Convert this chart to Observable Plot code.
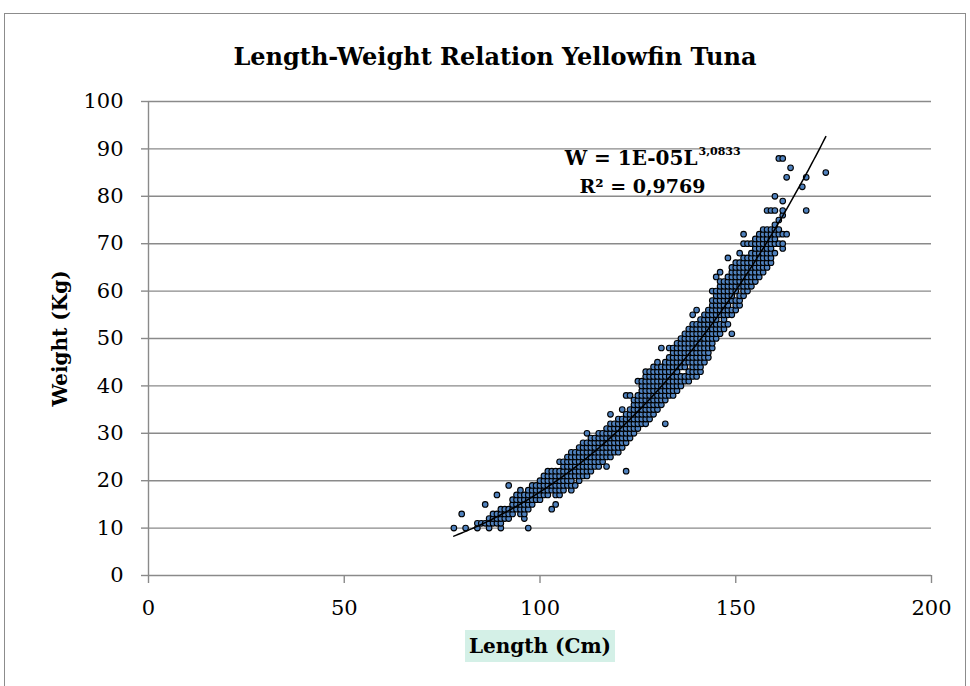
<!DOCTYPE html>
<html>
<head>
<meta charset="utf-8">
<script src="https://cdn.jsdelivr.net/npm/d3@7"></script>
<script src="https://cdn.jsdelivr.net/npm/@observablehq/plot@0.6"></script>
<style>
  body { margin: 0; background: #fff; }
  #wrap { position: relative; width: 970px; height: 686px; overflow: hidden; font-family: "DejaVu Serif", serif; }
  #border { position: absolute; left: 4px; top: 13px; width: 962px; height: 700px; border: 1px solid #8c8c8c; box-sizing: border-box; }
  #title { position: absolute; left: 495px; top: 42px; transform: translateX(-50%); white-space: nowrap;
           font-weight: bold; font-size: 24px; line-height: 30px; color: #000; }
  #chart { position: absolute; left: 0; top: 80px; }
  #xtitle { position: absolute; left: 465px; top: 630px; width: 150px; height: 32px; line-height: 32px;
            background: #d4f0e7; text-align: center; font-weight: bold; font-size: 20px; color: #000; white-space: nowrap; }
</style>
</head>
<body>
<div id="wrap">
  <div id="border"></div>
  <div id="title">Length-Weight Relation Yellowfin Tuna</div>
  <div id="chart"></div>
  <div id="xtitle">Length (Cm)</div>
</div>
<script>
const lengths = [78, 80, 81, 84, 85, 86, 87, 88, 89, 90, 91, 92, 93, 94, 95, 96, 97, 98, 99,
  100, 101, 102, 103, 104, 105, 106, 107, 108, 109, 110, 111, 112, 113, 114, 115, 116, 117, 118, 119,
  120, 121, 122, 123, 124, 125, 126, 127, 128, 129, 130, 131, 132, 133, 134, 135, 136, 137, 138, 139,
  140, 141, 142, 143, 144, 145, 146, 147, 148, 149, 150, 151, 152, 153, 154, 155, 156, 157, 158, 159,
  160, 161, 162, 163, 164, 167, 168, 173];
const weightsAtLength = [
  [10], [13], [10], [10, 11], [11], [11, 15], [10, 11, 12], [11, 12, 13], [11, 12, 13, 17],
  [10, 11, 12, 13, 14], [12, 13, 14], [12, 13, 14, 19], [13, 14, 15, 16], [14, 15, 16, 17],
  [13, 14, 15, 16, 17, 18], [12, 13, 14, 15, 16, 17], [10, 14, 15, 16, 17, 18], [15, 16, 17, 18, 19],
  [16, 17, 18, 19],
  [16, 17, 18, 19, 20], [17, 18, 19, 20, 21], [17, 18, 19, 20, 21, 22], [14, 18, 19, 20, 21, 22],
  [15, 17, 18, 19, 20, 21, 22], [17, 18, 19, 20, 21, 22, 24], [18, 19, 20, 21, 22, 23, 24],
  [19, 20, 21, 22, 23, 24, 25], [18, 19, 20, 21, 22, 23, 24, 25, 26], [19, 21, 22, 23, 24, 25, 26],
  [20, 21, 22, 23, 24, 25, 26, 27], [21, 22, 23, 24, 25, 26, 27, 28], [21, 22, 23, 24, 25, 26, 27, 28, 30],
  [22, 23, 24, 25, 26, 27, 28, 29], [23, 24, 25, 26, 27, 28, 29], [23, 24, 25, 26, 27, 28, 29, 30],
  [24, 25, 26, 27, 28, 29, 30], [23, 25, 26, 27, 28, 29, 30, 31], [25, 26, 27, 28, 29, 30, 31, 32, 34],
  [26, 27, 28, 29, 30, 31, 32],
  [26, 27, 28, 29, 30, 31, 32, 33], [27, 28, 29, 30, 31, 32, 33, 35], [22, 28, 29, 30, 31, 32, 33, 34, 38],
  [29, 30, 31, 32, 33, 34, 35, 38], [30, 31, 32, 33, 34, 35, 36, 37], [31, 32, 33, 34, 35, 36, 37, 38, 41],
  [32, 33, 34, 35, 36, 37, 38, 39, 40, 41], [32, 33, 34, 35, 36, 37, 38, 39, 40, 41, 42, 43],
  [33, 34, 35, 36, 37, 38, 39, 40, 41, 42, 43], [34, 35, 36, 37, 38, 39, 40, 41, 42, 43, 44],
  [35, 36, 37, 38, 39, 40, 41, 42, 43, 44, 45], [36, 37, 38, 39, 40, 41, 42, 43, 44, 48],
  [32, 37, 38, 39, 40, 41, 42, 43, 44, 45], [38, 39, 40, 41, 42, 43, 44, 45, 46, 48],
  [38, 39, 40, 41, 42, 43, 44, 45, 46, 47, 48], [39, 40, 41, 42, 43, 44, 45, 46, 47, 48, 49],
  [40, 41, 42, 44, 45, 46, 47, 48, 49, 50], [41, 42, 44, 45, 46, 47, 48, 49, 50, 51],
  [41, 42, 43, 45, 46, 47, 48, 49, 50, 51, 52], [42, 43, 44, 45, 46, 47, 48, 49, 50, 51, 52, 53, 55],
  [42, 43, 44, 45, 46, 47, 48, 49, 50, 51, 52, 53, 56], [43, 44, 45, 46, 47, 48, 49, 50, 51, 52, 53, 54],
  [45, 46, 47, 48, 49, 50, 51, 52, 53, 54, 55], [46, 47, 48, 49, 50, 51, 52, 53, 54, 55, 56],
  [48, 49, 50, 51, 52, 53, 54, 55, 56, 57, 58, 60], [50, 51, 52, 53, 54, 55, 56, 57, 58, 59, 60, 63],
  [51, 52, 53, 55, 56, 57, 58, 59, 60, 61, 62, 64], [52, 53, 54, 55, 56, 57, 58, 59, 60, 61, 62],
  [53, 55, 56, 57, 58, 59, 60, 61, 62, 63, 67], [51, 55, 56, 58, 59, 60, 61, 62, 63, 64, 65],
  [56, 57, 58, 60, 61, 62, 63, 64, 65, 66], [57, 58, 59, 61, 62, 63, 64, 65, 66, 68],
  [59, 60, 61, 62, 63, 64, 65, 66, 67, 70, 72], [60, 61, 62, 63, 64, 65, 66, 67, 70], [61, 62, 63, 64, 65, 66, 67, 68, 70],
  [62, 63, 64, 65, 66, 67, 68, 69, 70, 71], [63, 64, 65, 66, 67, 68, 69, 70, 71, 72], [64, 65, 66, 67, 68, 69, 70, 71, 72, 73],
  [65, 66, 67, 68, 69, 70, 71, 72, 73, 77], [66, 67, 68, 69, 70, 71, 72, 73, 77],
  [68, 70, 71, 72, 73, 74, 77, 80], [70, 72, 73, 75, 88], [69, 70, 72, 76, 77, 79, 88], [72, 84], [86], [82], [77, 84], [85]
];
const xTicks = [0, 50, 100, 150, 200];
const yTicks = [0, 10, 20, 30, 40, 50, 60, 70, 80, 90, 100];
const equationMain = "W = 1E-05L";
const equationExp = "3,0833";
const rSquared = "R² = 0,9769";

// ---- build table ----
const points = lengths.flatMap((L, i) => weightsAtLength[i].map(W => ({L, W})));

// power trendline fitted (log-log least squares) to the points
const lx = points.map(p => Math.log(p.L)), ly = points.map(p => Math.log(p.W));
const mx = d3.mean(lx), my = d3.mean(ly);
const b = d3.sum(lx, (v, i) => (v - mx) * (ly[i] - my)) / d3.sum(lx, v => (v - mx) ** 2);
const a = Math.exp(my - b * mx);
const [Lmin, Lmax] = d3.extent(points, p => p.L);
const trend = d3.range(Lmin, Lmax + 0.01, 0.5).map(L => ({L, W: a * Math.pow(L, b)}));

const grid = "#8a8a8a";
const font = "DejaVu Serif";

const chart = Plot.plot({
  width: 970,
  height: 606,
  marginLeft: 148,
  marginRight: 39,
  marginTop: 21,
  marginBottom: 111,
  style: {fontFamily: font, fontSize: "21px", color: "#000", background: "transparent"},
  x: {domain: [0, 200]},
  y: {domain: [0, 100]},
  marks: [
    Plot.ruleY(yTicks, {stroke: grid, strokeWidth: 1.4}),
    Plot.ruleX([0], {stroke: grid, strokeWidth: 1.4}),
    Plot.axisX({ticks: xTicks, tickSize: 8, tickPadding: 17, stroke: grid, strokeWidth: 1.4, label: null, fontSize: 21}),
    Plot.axisY({ticks: yTicks, tickSize: 7, tickPadding: 18, stroke: grid, strokeWidth: 1.4, label: null, fontSize: 21}),
    Plot.dot(points, {x: "L", y: "W", r: 2.8, fill: "#4f81bd", stroke: "#000", strokeWidth: 1.1}),
    Plot.line(trend, {x: "L", y: "W", stroke: "#000", strokeWidth: 1.5}),
    Plot.text([equationMain], {frameAnchor: "top-left", dx: 549, dy: 57, textAnchor: "end", lineAnchor: "middle",
      fontWeight: "bold", fontSize: 20, fill: "#000"}),
    Plot.text([equationExp], {frameAnchor: "top-left", dx: 550, dy: 50, textAnchor: "start", lineAnchor: "middle",
      fontWeight: "bold", fontSize: 11, fill: "#000"}),
    Plot.text([rSquared], {frameAnchor: "top-left", dx: 494, dy: 85, textAnchor: "middle", lineAnchor: "middle",
      fontWeight: "bold", fontSize: 19, fill: "#000"}),
    Plot.text(["Weight (Kg)"], {frameAnchor: "left", dx: -88, rotate: -90, textAnchor: "middle", lineAnchor: "middle",
      fontWeight: "bold", fontSize: 20, fill: "#000"})
  ]
});
document.getElementById("chart").appendChild(chart);
</script>
</body>
</html>
